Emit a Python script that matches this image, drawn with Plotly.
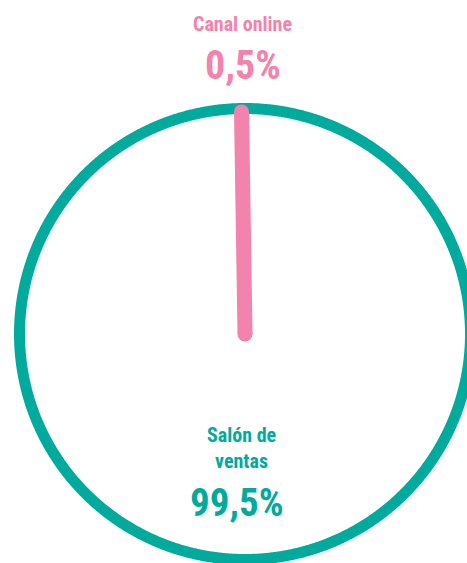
import numpy as np
import plotly.graph_objects as go

categories = ["Canal online", "Salón de ventas"]
values = [0.5, 99.5]
value_labels = ["0,5%", "99,5%"]
colors = ["#F283AC", "#00AA9D"]

total = sum(values)
start = 90.0  # degrees, counter-clockwise
fig = go.Figure()

# Salón de ventas: outer arc (drawn under the thin slice)
th = np.radians(np.linspace(start, start + 360.0, 1441))
fig.add_trace(go.Scatter(x=np.cos(th), y=np.sin(th), mode="lines",
                         line=dict(color=colors[1], width=11, simplify=False),
                         hoverinfo="skip", showlegend=False))

# Canal online: radial line at slice mid-angle
mid = np.radians(start + 180 * values[0] / total)
r_end = 0.985
xs = [0, r_end * np.cos(mid)]
ys = [0, r_end * np.sin(mid)]
fig.add_trace(go.Scatter(x=xs, y=ys, mode="lines+markers",
                         line=dict(color=colors[0], width=15),
                         marker=dict(color=colors[0], size=15, line=dict(width=0)),
                         hoverinfo="skip", showlegend=False))

W, H = 467, 563
R = 225.5
cx, cy = 245, 334
fig.update_xaxes(range=[-cx / R, (W - cx) / R], visible=False)
fig.update_yaxes(range=[-(H - cy) / R, cy / R], visible=False)

font = "Liberation Sans Narrow, Arial Narrow, Roboto Condensed, Arial, sans-serif"
ann = [
    dict(text="<b>" + categories[0] + "</b>", x=242 / W, y=1 - 24 / H, size=20, color=colors[0]),
    dict(text="<b>" + value_labels[0] + "</b>", x=243 / W, y=1 - 65 / H, size=40, color=colors[0]),
    dict(text="<b>Salón de<br>ventas</b>", x=241 / W, y=1 - 448 / H, size=20, color=colors[1]),
    dict(text="<b>" + value_labels[1] + "</b>", x=237 / W, y=1 - 503 / H, size=39, color=colors[1]),
]
fig.update_layout(
    width=W, height=H,
    margin=dict(l=0, r=0, t=0, b=0),
    paper_bgcolor="white", plot_bgcolor="white",
    annotations=[dict(text=a["text"], x=a["x"], y=a["y"], xref="paper", yref="paper",
                      xanchor="center", yanchor="middle", showarrow=False,
                      font=dict(family=font, size=a["size"], color=a["color"]))
                 for a in ann],
)
fig.write_html("out.html", config={"displayModeBar": False, "staticPlot": True},
               post_script="document.body.style.margin='0';document.body.style.overflow='hidden';")
